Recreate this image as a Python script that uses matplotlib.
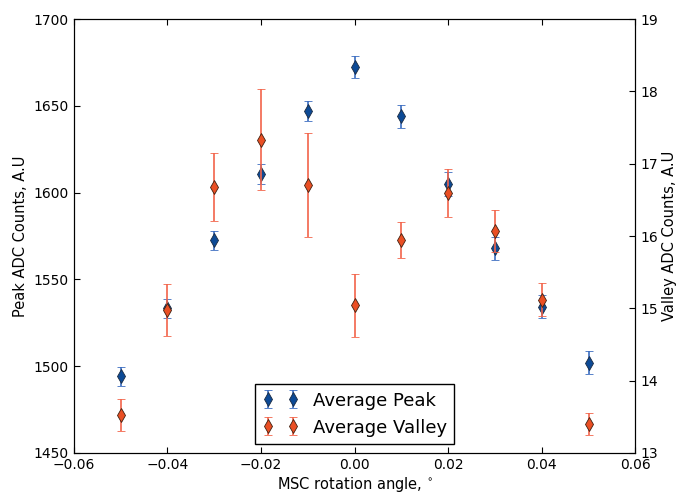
import matplotlib
matplotlib.use('Agg')
import matplotlib.pyplot as plt
import numpy as np

angles = [-0.05, -0.04, -0.03, -0.02, -0.01, 0.00, 0.01, 0.02, 0.03, 0.04, 0.05]
peak = [1494.2, 1533.3, 1572.5, 1610.5, 1647.0, 1672.4, 1644.0, 1605.0, 1568.0, 1534.3, 1502.0]
peak_err = [5.5, 5.5, 5.5, 5.8, 6.0, 6.4, 6.7, 6.9, 6.7, 6.5, 6.5]
valley = [13.52, 14.98, 16.68, 17.33, 16.70, 15.04, 15.94, 16.59, 16.07, 15.12, 13.40]
valley_err = [0.22, 0.36, 0.47, 0.70, 0.72, 0.43, 0.25, 0.33, 0.29, 0.23, 0.15]

plt.rcParams['xtick.direction'] = 'in'
plt.rcParams['ytick.direction'] = 'in'
plt.rcParams['xtick.top'] = True
plt.rcParams['xtick.major.size'] = 4
plt.rcParams['ytick.major.size'] = 4

fig = plt.figure(figsize=(6.78, 4.94), dpi=100)
ax1 = fig.add_axes([0.109, 0.083, 0.828, 0.8785])
ax2 = ax1.twinx()

h1 = ax1.errorbar(angles, peak, yerr=peak_err, fmt='d', color='#0d4a96',
                  ecolor='#3b6dc0', mec='#1a2a40', mew=0.6, ms=7, capsize=3,
                  elinewidth=1.2, capthick=1.0, label='Average Peak')
h2 = ax2.errorbar(angles, valley, yerr=valley_err, fmt='d', color='#ea4f24',
                  ecolor='#f2644a', mec='#402010', mew=0.6, ms=7, capsize=3,
                  elinewidth=1.2, capthick=1.0, label='Average Valley')

ax1.set_xlim(-0.06, 0.06)
ax1.set_xticks(np.arange(-0.06, 0.061, 0.02))
ax1.set_xticklabels(['\u22120.06', '\u22120.04', '\u22120.02', '0.00', '0.02', '0.04', '0.06'])
ax1.set_ylim(1450, 1700)
ax1.set_yticks(range(1450, 1701, 50))
ax2.set_ylim(13, 19)
ax2.set_yticks(range(13, 20))

ax1.tick_params(labelsize=10)
ax2.tick_params(labelsize=10)
ax1.set_xlabel('MSC rotation angle, $^{\\circ}$', fontsize=10.5, labelpad=2)
ax1.set_ylabel('Peak ADC Counts, A.U', fontsize=10.5)
ax2.set_ylabel('Valley ADC Counts, A.U', fontsize=10.5, labelpad=3)

leg = ax2.legend([h1, h2], ['Average Peak', 'Average Valley'], loc='lower center',
                 numpoints=2, fontsize=13, fancybox=False, framealpha=1,
                 edgecolor='black', borderaxespad=0.5)
leg.get_frame().set_linewidth(1.0)

fig.savefig('out.png', dpi=100)
